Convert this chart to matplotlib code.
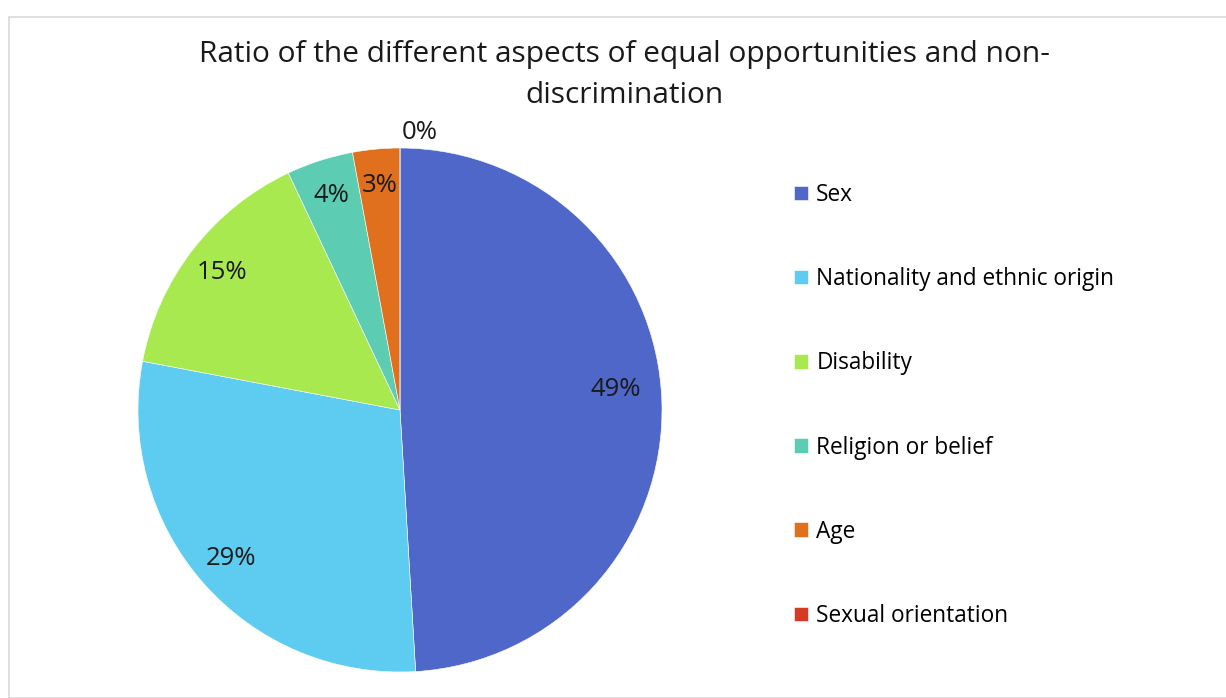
import matplotlib.pyplot as plt
import numpy as np
from matplotlib.patches import Rectangle

plt.rcParams['font.family'] = ['Open Sans', 'DejaVu Sans']

categories = ['Sex', 'Nationality and ethnic origin', 'Disability',
              'Religion or belief', 'Age', 'Sexual orientation']
shares = [49.0, 28.9, 15.0, 4.1, 2.9, 0.0]
colors = ['#4F67C8', '#5ECBF0', '#A8E94F', '#5CCDB3', '#E0701E', '#D63A24']
title = 'Ratio of the different aspects of equal opportunities and non-\ndiscrimination'

W, H = 1226, 698
fig = plt.figure(figsize=(W / 100, H / 100), dpi=100)

# light chart border like the spreadsheet export
fig.patches.append(Rectangle((9 / W, 0), 1.2, (H - 17) / H, transform=fig.transFigure,
                             fill=False, edgecolor='#d9d9d9', linewidth=1.2))

cx, cy, R = 400, 410, 262
ax = fig.add_axes([(cx - R) / W, (H - cy - R) / H, 2 * R / W, 2 * R / H])

wedges, texts, autotexts = ax.pie(
    shares, colors=colors, startangle=90, counterclock=False,
    autopct='%1.0f%%', pctdistance=0.86,
    wedgeprops=dict(linewidth=0.4, edgecolor='white'),
    textprops=dict(fontsize=18.5, color='#1a1a1a'))
ax.set_xlim(-1, 1)
ax.set_ylim(-1, 1)

# the empty slice gets its label outside the pie, as in the original
autotexts[-1].set_position((0.076, 1.06))
autotexts[0].set_position((0.824, 0.08))

fig.text(0.509, 0.943, title, ha='center', va='top', fontsize=21.5,
         color='#1a1a1a', linespacing=1.55)

fig.legend(wedges, categories, loc='upper left', bbox_to_anchor=(0.6405, 0.751),
           frameon=False, fontsize=16.3, handlelength=0.62, handleheight=0.62,
           handletextpad=0.35, labelspacing=2.66, borderaxespad=0)

fig.savefig('out.png', dpi=100)
